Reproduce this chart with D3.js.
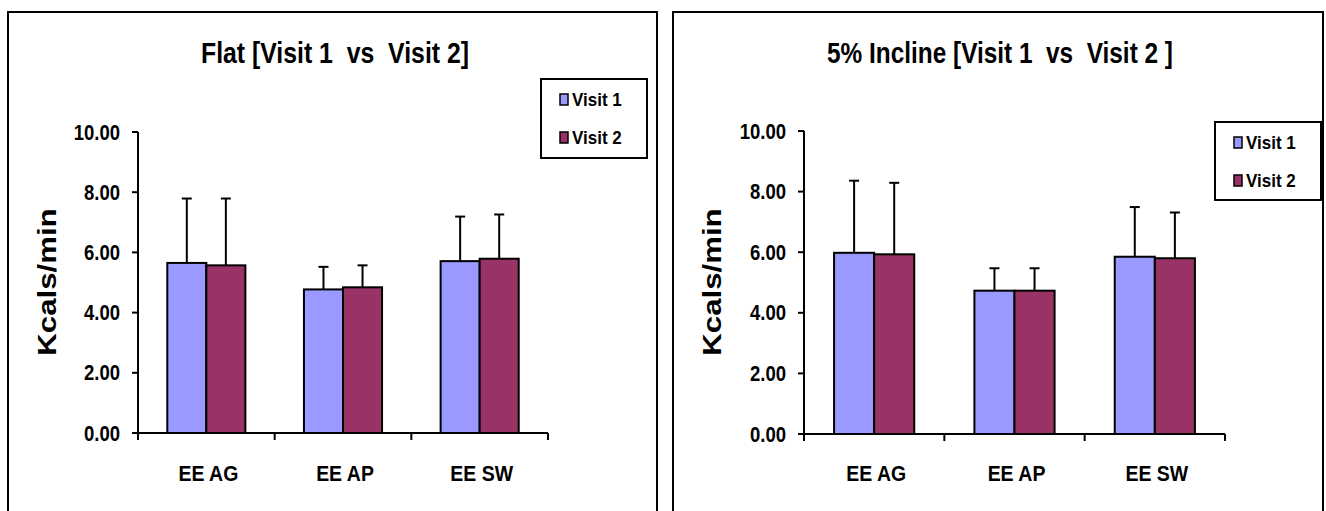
<!DOCTYPE html>
<html>
<head>
<meta charset="utf-8">
<script src="https://cdn.jsdelivr.net/npm/d3@7"></script>
<style>
  html, body { margin: 0; padding: 0; background: #fff; }
  svg { display: block; font-family: "Liberation Sans", Arial, sans-serif; font-weight: bold; }
  text { white-space: pre; }
</style>
</head>
<body>
<svg id="chart" width="1326" height="511"></svg>
<script>
// ---- data ----
const categories = ["EE AG", "EE AP", "EE SW"];
const seriesNames = ["Visit 1", "Visit 2"];
const yTicks = [0, 2, 4, 6, 8, 10];

const flatVisit1 = [5.65, 4.77, 5.71];
const flatVisit1SD = [2.14, 0.75, 1.48];
const flatVisit2 = [5.57, 4.84, 5.79];
const flatVisit2SD = [2.22, 0.73, 1.47];

const inclineVisit1 = [5.98, 4.73, 5.85];
const inclineVisit1SD = [2.38, 0.74, 1.64];
const inclineVisit2 = [5.93, 4.73, 5.80];
const inclineVisit2SD = [2.36, 0.74, 1.51];

const titles = ["Flat [Visit 1  vs  Visit 2]", "5% Incline [Visit 1  vs  Visit 2 ]"];
const yLabel = "Kcals/min";

// ---- styles / layout ----
const colors = ["#9999FF", "#993366"];

const panels = [
  { frame: [8, 12, 649, 520], x0: 138, x1: 548, y0: 433, y1: 132,
    titleX: 335, titleW: 268, legend: [541, 79, 106, 79], ylabX: 56,
    values: [flatVisit1, flatVisit2], sds: [flatVisit1SD, flatVisit2SD] },
  { frame: [673, 12, 650, 520], x0: 804, x1: 1225, y0: 434, y1: 131,
    titleX: 1000, titleW: 346, legend: [1215, 122, 106, 78], ylabX: 721,
    values: [inclineVisit1, inclineVisit2], sds: [inclineVisit1SD, inclineVisit2SD] }
];

const svg = d3.select("#chart");

function stretchedText(g, x, y, txt, size, anchor, rot, len, vs) {
  const t = g.append("text")
    .attr("transform", `translate(${x},${y}) scale(1,${vs || 1})` + (rot ? ` rotate(${rot})` : ""))
    .attr("font-size", size)
    .attr("text-anchor", anchor)
    .attr("fill", "#000")
    .text(txt);
  if (len) t.attr("textLength", len).attr("lengthAdjust", "spacingAndGlyphs");
  return t;
}

panels.forEach((p, pi) => {
  const g = svg.append("g");
  g.append("rect")
    .attr("x", p.frame[0]).attr("y", p.frame[1])
    .attr("width", p.frame[2]).attr("height", p.frame[3])
    .attr("fill", "#fff").attr("stroke", "#000").attr("stroke-width", 2);

  const x = d3.scaleBand().domain(categories).range([p.x0, p.x1]).paddingInner(0).paddingOuter(0);
  const y = d3.scaleLinear().domain([0, 10]).range([p.y0, p.y1]);
  const bw = x.bandwidth() / 3.5;
  const sub = d3.scaleBand().domain(seriesNames).range([0, 2 * bw]);

  // title
  stretchedText(g, p.titleX, 62.5, titles[pi], 29, "middle", 0, p.titleW, 1);

  // y label
  stretchedText(g, p.ylabX, 282, yLabel, 26, "middle", -90, null, 1.2);

  // bars
  seriesNames.forEach((s, si) => {
    categories.forEach((c, ci) => {
      const left = x(c) + (x.bandwidth() - 2 * bw) / 2 + sub(s);
      const v = p.values[si][ci];
      const sd = p.sds[si][ci];
      const cx = left + bw / 2;
      g.append("line")
        .attr("x1", cx).attr("x2", cx)
        .attr("y1", y(v)).attr("y2", y(v + sd))
        .attr("stroke", "#000").attr("stroke-width", 2);
      g.append("line")
        .attr("x1", cx - 5).attr("x2", cx + 5)
        .attr("y1", y(v + sd)).attr("y2", y(v + sd))
        .attr("stroke", "#000").attr("stroke-width", 2);
      g.append("rect")
        .attr("x", left).attr("y", y(v))
        .attr("width", bw).attr("height", y(0) - y(v))
        .attr("fill", colors[si]).attr("stroke", "#000").attr("stroke-width", 2);
    });
  });

  // y axis
  g.append("line").attr("x1", p.x0).attr("x2", p.x0).attr("y1", y(10)).attr("y2", y(0) + 7)
    .attr("stroke", "#000").attr("stroke-width", 2);
  yTicks.forEach(t => {
    g.append("line").attr("x1", p.x0 - 6).attr("x2", p.x0).attr("y1", y(t)).attr("y2", y(t))
      .attr("stroke", "#000").attr("stroke-width", 2);
    stretchedText(g, p.x0 - 18, y(t) + 7.5, d3.format(".2f")(t), 18.5, "end", 0, null, 1.18);
  });

  // x axis
  g.append("line").attr("x1", p.x0).attr("x2", p.x1).attr("y1", y(0)).attr("y2", y(0))
    .attr("stroke", "#000").attr("stroke-width", 2);
  const bounds = categories.map(c => x(c)).concat([p.x1]);
  bounds.forEach(b => {
    g.append("line").attr("x1", b).attr("x2", b).attr("y1", y(0)).attr("y2", y(0) + 7)
      .attr("stroke", "#000").attr("stroke-width", 2);
  });
  categories.forEach(c => {
    stretchedText(g, x(c) + x.bandwidth() / 2 + 2, 481, c, 19.5, "middle", 0, null, 1.12);
  });

  // legend
  const L = p.legend;
  g.append("rect").attr("x", L[0]).attr("y", L[1]).attr("width", L[2]).attr("height", L[3])
    .attr("fill", "#fff").attr("stroke", "#000").attr("stroke-width", 2);
  seriesNames.forEach((s, si) => {
    const cy = L[1] + 20 + si * 38;
    g.append("rect").attr("x", L[0] + 19).attr("y", cy - 5).attr("width", 8).attr("height", 11)
      .attr("fill", colors[si]).attr("stroke", "#000").attr("stroke-width", 1.5);
    stretchedText(g, L[0] + 31, cy + 6.5, s, 17, "start", 0, null, 1.05);
  });
});
</script>
</body>
</html>
